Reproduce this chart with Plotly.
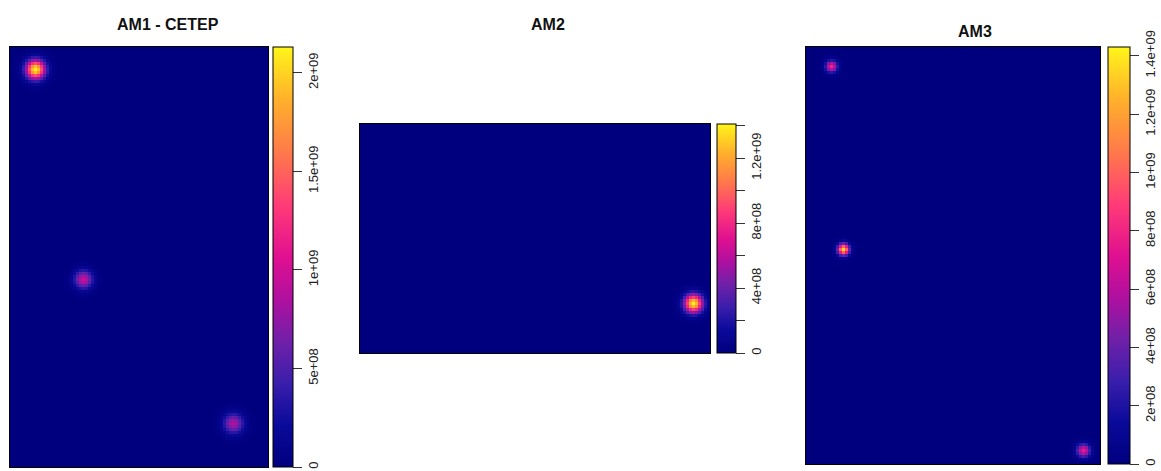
import numpy as np
import plotly.graph_objects as go

W, H = 1161, 471

titles = ["AM1 - CETEP", "AM2", "AM3"]

# raster sizes (cells) per panel
grid_nx = [86, 117, 98]
grid_ny = [140, 76, 139]

# hotspots per panel: column, row (from top), peak value, spread (cells)
spot_x = [[8.5, 24.5, 74.5], [111.5], [8.5, 12.5, 92.5]]
spot_y = [[7.5, 77.5, 125.5], [59.5], [6.5, 67.5, 134.5]]
spot_peak = [[2.12e9, 9.5e8, 8.5e8], [1.4e9], [8.0e8, 1.35e9, 7.5e8]]
spot_sigma = [[2.2, 2.1, 2.3], [2.1], [1.3, 1.3, 1.5]]

# colour bar ranges and ticks
cb_max = [2.13e9, 1.41e9, 1.43e9]
cb_tickvals = [
    [0, 5e8, 1e9, 1.5e9, 2e9],
    [0, 2e8, 4e8, 6e8, 8e8, 1e9, 1.2e9, 1.4e9],
    [0, 2e8, 4e8, 6e8, 8e8, 1e9, 1.2e9, 1.4e9],
]
cb_ticktext = [
    ["0", "5e+08", "1e+09", "1.5e+09", "2e+09"],
    ["0", "", "4e+08", "", "8e+08", "", "1.2e+09", ""],
    ["0", "2e+08", "4e+08", "6e+08", "8e+08", "1e+09", "1.2e+09", "1.4e+09"],
]

# pixel layout: panel box (x0, x1, y0, y1), colorbar x0, width
panel_px = [(10, 268, 47, 467), (360, 710, 124, 353), (806, 1100, 47, 464)]
cbar_px = [(273, 20), (717, 19), (1108, 22)]
title_px = [(168, 25), (548, 25), (975, 32)]

colorscale = [
    [0.0, "#00007f"],
    [0.10, "#0a0a9a"],
    [0.20, "#3a1eac"],
    [0.30, "#7020a8"],
    [0.40, "#b010a0"],
    [0.50, "#e01090"],
    [0.62, "#ff3a78"],
    [0.75, "#ff7a4a"],
    [0.88, "#ffb32a"],
    [1.0, "#fff51a"],
]

fig = go.Figure()

for i in range(3):
    nx, ny = grid_nx[i], grid_ny[i]
    cx = np.arange(nx) + 0.5
    cy = np.arange(ny) + 0.5
    X, Y = np.meshgrid(cx, cy)
    Z = np.zeros((ny, nx))
    for sx, sy, pk, sg in zip(spot_x[i], spot_y[i], spot_peak[i], spot_sigma[i]):
        Z += pk * np.exp(-((X - sx) ** 2 + (Y - sy) ** 2) / (2 * sg ** 2))

    x0, x1, y0, y1 = panel_px[i]
    cbx, cbw = cbar_px[i]
    ax = "" if i == 0 else str(i + 1)
    fig.add_trace(go.Heatmap(
        z=Z, x=cx, y=cy, zmin=0, zmax=cb_max[i],
        colorscale=colorscale, zsmooth=False,
        xaxis="x" + ax, yaxis="y" + ax,
        colorbar=dict(
            x=cbx / W, xanchor="left", xref="paper",
            y=1 - (y0 + y1) / 2 / H, yanchor="middle", yref="paper",
            len=(y1 - y0), lenmode="pixels",
            thickness=cbw, thicknessmode="pixels",
            xpad=0, ypad=0,
            outlinewidth=1, outlinecolor="black",
            tickmode="array", tickvals=cb_tickvals[i], ticktext=cb_ticktext[i],
            ticks="outside", ticklen=9, tickcolor="#333", tickwidth=1,
            tickangle=-90,
            tickfont=dict(family="Liberation Sans, Arial", size=13, color="#222"),
        ),
        showscale=True,
    ))
    fig.update_layout(**{
        "xaxis" + ax: dict(domain=[x0 / W, x1 / W], range=[0, nx], showgrid=False,
                          zeroline=False, showticklabels=False, ticks="",
                          showline=True, mirror=True, linecolor="black", linewidth=1,
                          anchor="y" + ax),
        "yaxis" + ax: dict(domain=[1 - y1 / H, 1 - y0 / H], range=[ny, 0], showgrid=False,
                          zeroline=False, showticklabels=False, ticks="",
                          showline=True, mirror=True, linecolor="black", linewidth=1,
                          anchor="x" + ax),
    })
    tx, ty = title_px[i]
    fig.add_annotation(text="<b>" + titles[i] + "</b>", x=tx / W, y=1 - ty / H,
                       xref="paper", yref="paper", showarrow=False,
                       xanchor="center", yanchor="middle",
                       font=dict(family="Liberation Sans, Arial", size=16, color="#111"))

fig.update_layout(width=W, height=H, margin=dict(l=0, r=0, t=0, b=0),
                  paper_bgcolor="white", plot_bgcolor="white")

fig.write_html("out.html", config={"displayModeBar": False},
               post_script="document.body.style.margin='0';document.body.style.overflow='hidden';")
